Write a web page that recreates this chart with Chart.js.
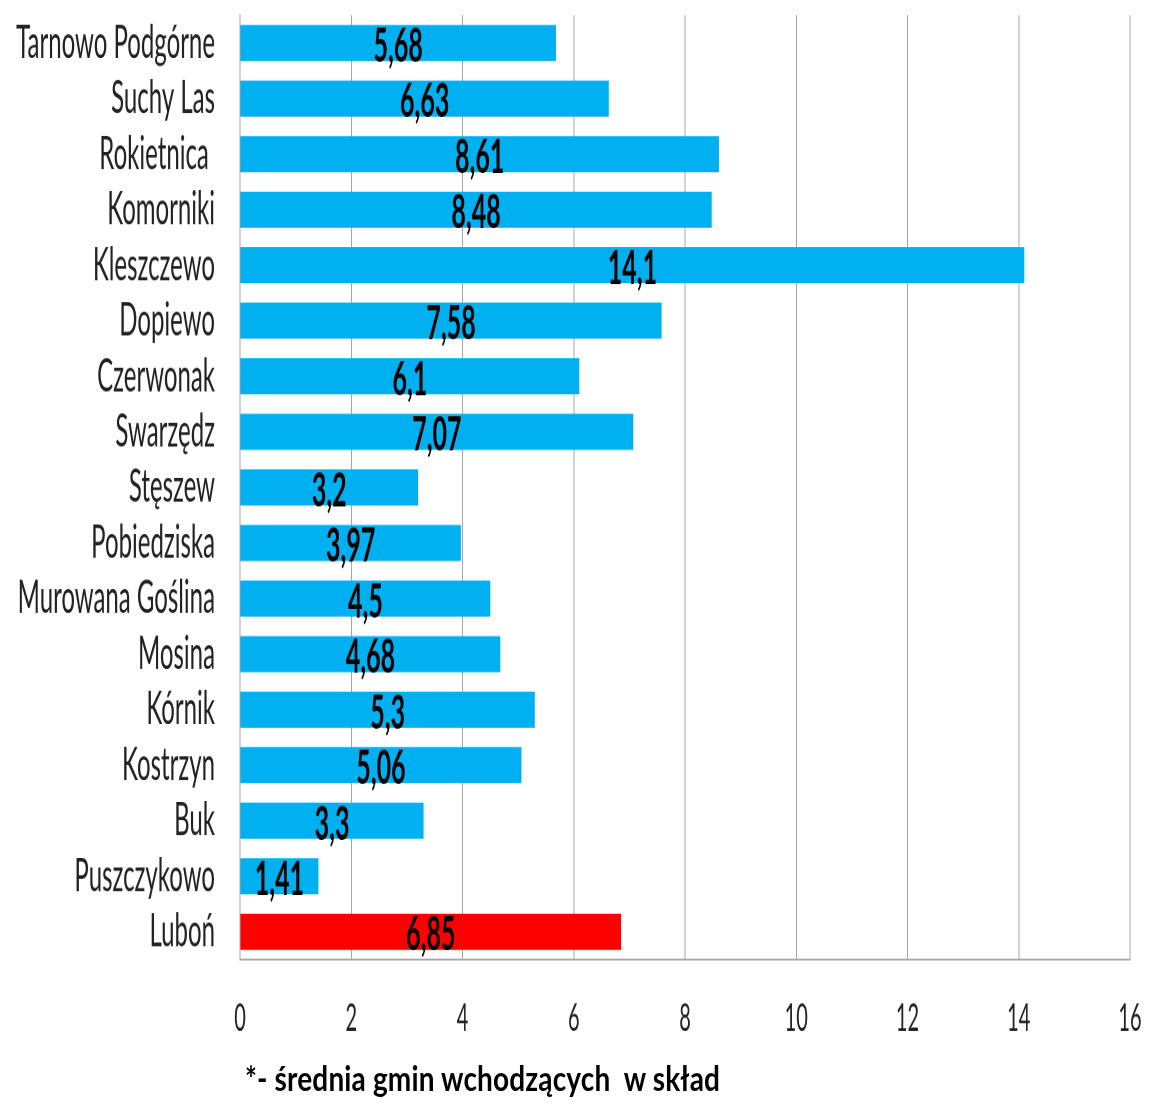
<!DOCTYPE html>
<html>
<head>
<meta charset="utf-8">
<script src="https://cdn.jsdelivr.net/npm/chart.js@4.4.1/dist/chart.umd.min.js"></script>
<style>
  html, body { margin: 0; padding: 0; background: #fff; overflow: hidden; }
  body { width: 1149px; height: 1104px; position: relative; }
  /* the original picture is stretched tall, so the canvas is too */
  #wrap { position: absolute; left: 0; top: 0; width: 1149px; height: 581px; transform: scaleY(1.9002); transform-origin: 0 0; }
  #note { position: absolute; left: 245px; top: 1056px; font: bold 28px Lato, sans-serif; letter-spacing: 0.15px; color: #000; white-space: pre; transform: scaleY(1.25); transform-origin: 0 0; }
</style>
</head>
<body>
<div id="wrap"><canvas id="chart"></canvas></div>
<div id="note">*- średnia gmin wchodzących  w skład</div>
<script>
const gminy = [
  'Tarnowo Podgórne', 'Suchy Las', 'Rokietnica ', 'Komorniki', 'Kleszczewo',
  'Dopiewo', 'Czerwonak', 'Swarzędz', 'Stęszew', 'Pobiedziska',
  'Murowana Goślina', 'Mosina', 'Kórnik', 'Kostrzyn', 'Buk', 'Puszczykowo', 'Luboń'
];
const wartosci = [5.68, 6.63, 8.61, 8.48, 14.1, 7.58, 6.1, 7.07, 3.2, 3.97, 4.5, 4.68, 5.3, 5.06, 3.3, 1.41, 6.85];
const xMin = 0;
const xMax = 16;
const xStep = 2;

const niebieski = '#00B0F0';
const czerwony = '#FF0000';
const kolory = gminy.map(g => g === 'Luboń' ? czerwony : niebieski);

const fmt = v => String(v).replace('.', ',');

// value labels in the middle of each bar
const etykiety = {
  id: 'etykiety',
  afterDatasetsDraw(chart) {
    const ctx = chart.ctx;
    const meta = chart.getDatasetMeta(0);
    ctx.save();
    ctx.font = 'bold 25px Lato, sans-serif';
    ctx.fillStyle = '#000';
    ctx.textAlign = 'center';
    ctx.textBaseline = 'middle';
    meta.data.forEach((bar, i) => {
      const cx = (bar.x + bar.base) / 2;
      ctx.fillText(fmt(wartosci[i]), cx, bar.y + 1.8);
    });
    ctx.restore();
  }
};

const ctx = document.getElementById('chart').getContext('2d');
new Chart(ctx, {
  type: 'bar',
  data: {
    labels: gminy,
    datasets: [{
      data: wartosci,
      backgroundColor: kolory,
      borderWidth: 0,
      barPercentage: 0.65,
      categoryPercentage: 1
    }]
  },
  options: {
    indexAxis: 'y',
    responsive: true,
    maintainAspectRatio: false,
    devicePixelRatio: 2,
    animation: false,
    layout: { padding: { top: 8, right: 19, bottom: 34, left: 0 } },
    plugins: {
      legend: { display: false },
      tooltip: { enabled: false }
    },
    scales: {
      x: {
        min: xMin,
        max: xMax,
        grid: { color: '#a6a6a6', lineWidth: 1, drawTicks: false },
        border: { color: '#a6a6a6', width: 1 },
        ticks: {
          stepSize: xStep,
          padding: 19,
          color: '#222',
          font: { family: 'Lato', size: 20 }
        },
        afterFit: scale => {
          scale.height = 42;
          scale.paddingLeft = 0;
          scale.paddingRight = 0;
        }
      },
      y: {
        grid: { display: false, drawTicks: false },
        border: { color: '#a6a6a6', width: 1 },
        ticks: {
          autoSkip: false,
          padding: 25,
          color: '#222',
          font: { family: 'Lato', size: 24 }
        },
        afterFit: scale => {
          scale.width = 240;
          scale.paddingTop = 0;
          scale.paddingBottom = 0;
        }
      }
    }
  },
  plugins: [etykiety]
});
</script>
</body>
</html>
